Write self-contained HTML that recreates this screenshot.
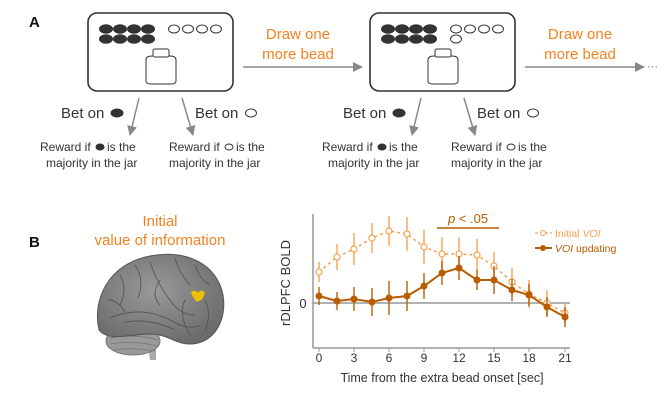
<!DOCTYPE html>
<html><head><meta charset="utf-8"><style>
html,body{margin:0;padding:0;background:#fff;}
svg{display:block;}
text{font-family:"Liberation Sans",Arial,sans-serif;}
</style></head><body>
<svg width="669" height="411" viewBox="0 0 669 411" xmlns="http://www.w3.org/2000/svg">
<defs>
<marker id="ah" markerWidth="10" markerHeight="10" refX="9" refY="5" orient="auto" markerUnits="userSpaceOnUse">
<path d="M0,0 L10,5 L0,10 Z" fill="#888"/></marker>
<radialGradient id="bg" cx="45%" cy="40%" r="65%"><stop offset="0" stop-color="#9a9a9a"/><stop offset="1" stop-color="#6a6a6a"/></radialGradient>
</defs>
<text x="29" y="27" font-size="15" font-weight="bold" fill="#111">A</text>
<text x="29" y="247" font-size="15" font-weight="bold" fill="#111">B</text>

<g>
<rect x="88" y="13" width="145" height="78" rx="9" fill="#fff" stroke="#333" stroke-width="1.6"/>
<g fill="#333">
<ellipse cx="106" cy="29" rx="7" ry="4.8"/><ellipse cx="120" cy="29" rx="7" ry="4.8"/><ellipse cx="134" cy="29" rx="7" ry="4.8"/><ellipse cx="148" cy="29" rx="7" ry="4.8"/>
<ellipse cx="106" cy="39" rx="7" ry="4.8"/><ellipse cx="120" cy="39" rx="7" ry="4.8"/><ellipse cx="134" cy="39" rx="7" ry="4.8"/><ellipse cx="148" cy="39" rx="7" ry="4.8"/>
</g>
<g fill="#fff" stroke="#333" stroke-width="1">
<ellipse cx="174" cy="29" rx="5.5" ry="4"/><ellipse cx="188" cy="29" rx="5.5" ry="4"/><ellipse cx="202" cy="29" rx="5.5" ry="4"/><ellipse cx="216" cy="29" rx="5.5" ry="4"/>
<path d="M146,60 Q146,56 152,56 L170,56 Q176,56 176,60 L176,81 Q176,84 171,84 L151,84 Q146,84 146,81 Z"/>
<rect x="153" y="49" width="16" height="8" rx="2"/>
</g>
</g>
<g>
<rect x="370" y="13" width="145" height="78" rx="9" fill="#fff" stroke="#333" stroke-width="1.6"/>
<g fill="#333">
<ellipse cx="388" cy="29" rx="7" ry="4.8"/><ellipse cx="402" cy="29" rx="7" ry="4.8"/><ellipse cx="416" cy="29" rx="7" ry="4.8"/><ellipse cx="430" cy="29" rx="7" ry="4.8"/>
<ellipse cx="388" cy="39" rx="7" ry="4.8"/><ellipse cx="402" cy="39" rx="7" ry="4.8"/><ellipse cx="416" cy="39" rx="7" ry="4.8"/><ellipse cx="430" cy="39" rx="7" ry="4.8"/>
</g>
<g fill="#fff" stroke="#333" stroke-width="1">
<ellipse cx="456" cy="29" rx="5.5" ry="4"/><ellipse cx="470" cy="29" rx="5.5" ry="4"/><ellipse cx="484" cy="29" rx="5.5" ry="4"/><ellipse cx="498" cy="29" rx="5.5" ry="4"/>
<ellipse cx="456" cy="39" rx="5.5" ry="4"/>
<path d="M428,60 Q428,56 434,56 L452,56 Q458,56 458,60 L458,81 Q458,84 453,84 L433,84 Q428,84 428,81 Z"/>
<rect x="435" y="49" width="16" height="8" rx="2"/>
</g>
</g>

<g font-size="15" fill="#f58220" text-anchor="middle">
<text x="298" y="39">Draw one</text><text x="298" y="59">more bead</text>
<text x="580" y="39">Draw one</text><text x="580" y="59">more bead</text>
</g>
<line x1="243" y1="67" x2="362" y2="67" stroke="#888" stroke-width="1.5" marker-end="url(#ah)"/>
<line x1="525" y1="67" x2="644" y2="67" stroke="#888" stroke-width="1.5" marker-end="url(#ah)"/>
<text x="647" y="70" font-size="11" fill="#666">···</text>

<g stroke="#888" stroke-width="1.5">
<line x1="139" y1="98" x2="130" y2="135" marker-end="url(#ah)"/>
<line x1="182" y1="98" x2="193" y2="135" marker-end="url(#ah)"/>
<line x1="421" y1="98" x2="412" y2="135" marker-end="url(#ah)"/>
<line x1="464" y1="98" x2="475" y2="135" marker-end="url(#ah)"/>
</g>
<g font-size="15" fill="#333">
<text x="61" y="118">Bet on</text><ellipse cx="117" cy="113" rx="6.5" ry="4.5" fill="#333"/>
<text x="195" y="118">Bet on</text><ellipse cx="251" cy="113" rx="5.5" ry="4" fill="#fff" stroke="#333"/>
<text x="343" y="118">Bet on</text><ellipse cx="399" cy="113" rx="6.5" ry="4.5" fill="#333"/>
<text x="477" y="118">Bet on</text><ellipse cx="533" cy="113" rx="5.5" ry="4" fill="#fff" stroke="#333"/>
</g>
<g font-size="12" fill="#333">
<text x="40" y="151">Reward if</text><ellipse cx="100" cy="147" rx="4.5" ry="3.5" fill="#333"/><text x="107" y="151">is the</text>
<text x="46" y="167">majority in the jar</text>
<text x="169" y="151">Reward if</text><ellipse cx="229" cy="147" rx="4" ry="3" fill="#fff" stroke="#333"/><text x="236" y="151">is the</text>
<text x="169" y="167">majority in the jar</text>
<text x="322" y="151">Reward if</text><ellipse cx="382" cy="147" rx="4.5" ry="3.5" fill="#333"/><text x="389" y="151">is the</text>
<text x="328" y="167">majority in the jar</text>
<text x="451" y="151">Reward if</text><ellipse cx="511" cy="147" rx="4" ry="3" fill="#fff" stroke="#333"/><text x="518" y="151">is the</text>
<text x="451" y="167">majority in the jar</text>
</g>

<g font-size="15" fill="#f58220" text-anchor="middle">
<text x="160" y="226">Initial</text><text x="160" y="245">value of information</text>
</g>
<path d="M146,334 L150,360 L156,360 L156,336 Z" fill="#aaa"/>
<ellipse cx="133" cy="341" rx="27" ry="14" fill="#999" stroke="#777"/>
<path d="M110,338 Q133,333 158,340 M110,344 Q133,340 158,346 M113,350 Q133,347 155,351" stroke="#777" fill="none" stroke-width="0.8"/>
<path d="M99,330 C92,300 108,264 150,256 C186,249 217,264 223,295 C227,318 216,342 192,344 C176,345 168,334 150,334 C130,334 108,342 99,330 Z" fill="url(#bg)" stroke="#555"/>
<g stroke="#4a4a4a" fill="none" stroke-width="0.9" opacity="0.8">
<path d="M110,318 Q140,305 170,320 Q185,330 200,326"/>
<path d="M150,262 Q158,285 170,300 Q180,315 195,315"/>
<path d="M120,275 Q128,290 120,305"/><path d="M135,265 Q145,280 138,298"/>
<path d="M175,258 Q180,275 190,285"/><path d="M195,265 Q200,280 210,285"/>
<path d="M205,300 Q212,315 205,330"/><path d="M108,300 Q118,300 125,312"/>
<path d="M160,280 Q150,295 160,305"/><path d="M185,300 Q178,315 190,335"/>
<path d="M125,322 Q150,318 175,330"/>
</g>
<path d="M191,292 Q195,289 198,293 Q201,288 205,293 Q203,300 197,302 Q192,297 191,292 Z" fill="#f0c000"/>

<line x1="313" y1="214" x2="313" y2="348" stroke="#999" stroke-width="1.5"/>
<line x1="313" y1="348" x2="570" y2="348" stroke="#999" stroke-width="1.5"/>
<line x1="313" y1="303" x2="570" y2="303" stroke="#999" stroke-width="1.5"/>
<text x="303" y="308" font-size="13" fill="#333" text-anchor="middle">0</text>
<text transform="translate(290,283) rotate(-90)" font-size="13" fill="#333" text-anchor="middle">rDLPFC BOLD</text>
<g font-size="12" fill="#333" text-anchor="middle">
<text x="319" y="362">0</text><text x="354" y="362">3</text><text x="389" y="362">6</text><text x="424" y="362">9</text><text x="459" y="362">12</text><text x="494" y="362">15</text><text x="529" y="362">18</text><text x="565" y="362">21</text>
<text x="442" y="382" font-size="12.5">Time from the extra bead onset [sec]</text>
</g>
<g stroke="#999"><line x1="319" y1="348" x2="319" y2="352"/><line x1="354" y1="348" x2="354" y2="352"/><line x1="389" y1="348" x2="389" y2="352"/><line x1="424" y1="348" x2="424" y2="352"/><line x1="459" y1="348" x2="459" y2="352"/><line x1="494" y1="348" x2="494" y2="352"/><line x1="529" y1="348" x2="529" y2="352"/><line x1="565" y1="348" x2="565" y2="352"/></g>
<line x1="437" y1="228" x2="499" y2="228" stroke="#b85c00" stroke-width="1.5"/>
<text x="468" y="223" font-size="13" fill="#b85c00" text-anchor="middle"><tspan font-style="italic">p</tspan> &lt; .05</text>

<g stroke="#f7a050" stroke-width="1.6" opacity="0.85">
<line x1="319" y1="262" x2="319" y2="282"/><line x1="337" y1="244" x2="337" y2="270"/><line x1="354" y1="233" x2="354" y2="265"/><line x1="372" y1="223" x2="372" y2="253"/><line x1="389" y1="216" x2="389" y2="246"/><line x1="407" y1="217" x2="407" y2="251"/><line x1="424" y1="230" x2="424" y2="264"/><line x1="442" y1="237" x2="442" y2="271"/><line x1="459" y1="237" x2="459" y2="271"/><line x1="477" y1="239" x2="477" y2="271"/><line x1="494" y1="252" x2="494" y2="280"/><line x1="512" y1="268" x2="512" y2="296"/><line x1="529" y1="280" x2="529" y2="308"/><line x1="547" y1="290" x2="547" y2="316"/><line x1="565" y1="303" x2="565" y2="323"/>
</g>
<polyline points="319,272 337,257 354,249 372,238 389,231 407,234 424,247 442,254 459,254 477,255 494,266 512,282 529,294 547,303 565,313" fill="none" stroke="#f7a050" stroke-width="1.5" stroke-dasharray="3,3"/>
<g fill="#fff" stroke="#f7a050" stroke-width="1.2">
<circle cx="319" cy="272" r="3"/><circle cx="337" cy="257" r="3"/><circle cx="354" cy="249" r="3"/><circle cx="372" cy="238" r="3"/><circle cx="389" cy="231" r="3"/><circle cx="407" cy="234" r="3"/><circle cx="424" cy="247" r="3"/><circle cx="442" cy="254" r="3"/><circle cx="459" cy="254" r="3"/><circle cx="477" cy="255" r="3"/><circle cx="494" cy="266" r="3"/><circle cx="512" cy="282" r="3"/><circle cx="529" cy="294" r="3"/><circle cx="547" cy="303" r="3"/><circle cx="565" cy="313" r="3"/>
</g>
<g stroke="#b85c00" stroke-width="1.6" opacity="0.85">
<line x1="319" y1="287" x2="319" y2="305"/><line x1="337" y1="292" x2="337" y2="310"/><line x1="354" y1="287" x2="354" y2="311"/><line x1="372" y1="288" x2="372" y2="316"/><line x1="389" y1="281" x2="389" y2="315"/><line x1="407" y1="281" x2="407" y2="311"/><line x1="424" y1="273" x2="424" y2="299"/><line x1="442" y1="261" x2="442" y2="285"/><line x1="459" y1="256" x2="459" y2="280"/><line x1="477" y1="270" x2="477" y2="290"/><line x1="494" y1="266" x2="494" y2="294"/><line x1="512" y1="279" x2="512" y2="301"/><line x1="529" y1="284" x2="529" y2="306"/><line x1="547" y1="297" x2="547" y2="317"/><line x1="565" y1="307" x2="565" y2="327"/>
</g>
<polyline points="319,296 337,301 354,299 372,302 389,298 407,296 424,286 442,273 459,268 477,280 494,280 512,290 529,295 547,307 565,317" fill="none" stroke="#b85c00" stroke-width="2"/>
<g fill="#b85c00">
<circle cx="319" cy="296" r="3.5"/><circle cx="337" cy="301" r="3.5"/><circle cx="354" cy="299" r="3.5"/><circle cx="372" cy="302" r="3.5"/><circle cx="389" cy="298" r="3.5"/><circle cx="407" cy="296" r="3.5"/><circle cx="424" cy="286" r="3.5"/><circle cx="442" cy="273" r="3.5"/><circle cx="459" cy="268" r="3.5"/><circle cx="477" cy="280" r="3.5"/><circle cx="494" cy="280" r="3.5"/><circle cx="512" cy="290" r="3.5"/><circle cx="529" cy="295" r="3.5"/><circle cx="547" cy="307" r="3.5"/><circle cx="565" cy="317" r="3.5"/>
</g>
<line x1="535" y1="233" x2="552" y2="233" stroke="#f7a050" stroke-width="1.3" stroke-dasharray="3,2"/>
<circle cx="543" cy="233" r="2.5" fill="#fff" stroke="#f7a050"/>
<text x="555" y="237" font-size="10.5" fill="#f7a050">Initial <tspan font-style="italic">VOI</tspan></text>
<line x1="535" y1="248" x2="552" y2="248" stroke="#b85c00" stroke-width="2"/>
<circle cx="543" cy="248" r="3" fill="#b85c00"/>
<text x="555" y="252" font-size="10.5" fill="#b85c00"><tspan font-style="italic">VOI</tspan> updating</text>
</svg>
</body></html>
